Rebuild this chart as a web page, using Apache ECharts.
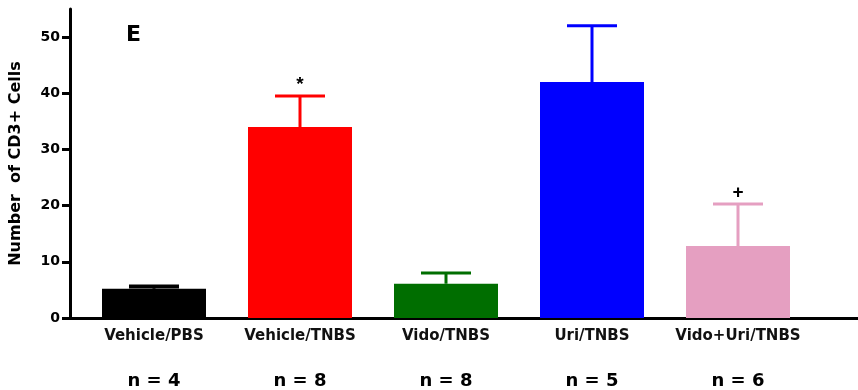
<!DOCTYPE html>
<html><head><meta charset="utf-8">
<script src="https://cdn.jsdelivr.net/npm/echarts@6/dist/echarts.min.js"></script>
<style>html,body{margin:0;padding:0;background:#fff}#c{width:858px;height:390px}</style>
</head><body><div id="c"></div>
<script>
var categories = ['Vehicle/PBS', 'Vehicle/TNBS', 'Vido/TNBS', 'Uri/TNBS', 'Vido+Uri/TNBS'];
var nLabels = ['n = 4', 'n = 8', 'n = 8', 'n = 5', 'n = 6'];
var means = [5.2, 34, 6.1, 42, 12.8];
var sems = [0.4, 5.5, 1.9, 10, 7.5];
var marks = ['', '*', '', '', '+'];
var yTicks = [0, 10, 20, 30, 40, 50];
var yMax = 55;
var colors = ['#000000', '#ff0000', '#006e00', '#0000ff', '#e59fc1'];

var chart = echarts.init(document.getElementById('c'), null, {renderer: 'canvas'});
var font = 'DejaVu Sans, Verdana, sans-serif';

var option = {
  animation: false,
  backgroundColor: '#fff',
  grid: [
    {left: 81, right: 47, top: 9, bottom: 72, containLabel: false, outerBoundsMode: 'none'},
    {left: 70, right: 0, top: 9, bottom: 72, containLabel: false, outerBoundsMode: 'none'}
  ],
  xAxis: [
    {type: 'category', gridIndex: 0, data: categories,
     axisLine: {show: false}, axisTick: {show: false},
     axisLabel: {margin: 11, color: '#111', fontFamily: font, fontWeight: 'bold', fontSize: 15, interval: 0}},
    {type: 'category', gridIndex: 0, data: nLabels, position: 'bottom', offset: 46,
     axisLine: {show: false}, axisTick: {show: false},
     axisLabel: {margin: 8, color: '#000', fontFamily: font, fontWeight: 'bold', fontSize: 18, interval: 0}},
    {type: 'value', gridIndex: 1, min: 0, max: 1,
     axisLine: {show: true, lineStyle: {color: '#000', width: 3}},
     axisTick: {show: false}, axisLabel: {show: false}, splitLine: {show: false}}
  ],
  yAxis: [
    {type: 'value', gridIndex: 0, min: 0, max: yMax, show: false, splitLine: {show: false}},
    {type: 'value', gridIndex: 1, min: 0, max: yMax,
     name: 'Number  of CD3+ Cells', nameLocation: 'middle', nameGap: 46,
     nameTextStyle: {fontFamily: font, fontWeight: 'bold', fontSize: 16, color: '#000'},
     axisLine: {show: true, lineStyle: {color: '#000', width: 3}},
     axisTick: {show: true, length: 8, lineStyle: {width: 3, color: '#000'}, customValues: yTicks},
     axisLabel: {fontFamily: font, fontWeight: 'bold', fontSize: 14, color: '#000', margin: 10, customValues: yTicks},
     splitLine: {show: false}}
  ],
  graphic: [
    {type: 'text', left: 126, top: 24, style: {text: 'E', font: 'bold 22px DejaVu Sans, Verdana, sans-serif', fill: '#000'}}
  ],
  series: [
    {type: 'bar', xAxisIndex: 0, yAxisIndex: 0, barWidth: 104,
     data: means.map(function (v, i) { return {value: v, itemStyle: {color: colors[i]}}; })},
    {type: 'custom', xAxisIndex: 0, yAxisIndex: 0,
     data: means.map(function (v, i) { return [i, v, sems[i]]; }),
     renderItem: function (params, api) {
       var i = api.value(0), m = api.value(1), e = api.value(2);
       var base = api.coord([i, m]);
       var top = api.coord([i, m + e]);
       var col = colors[i];
       var capW = 50;
       var children = [
         {type: 'line', shape: {x1: base[0], y1: base[1], x2: top[0], y2: top[1]}, style: {stroke: col, lineWidth: 3}},
         {type: 'line', shape: {x1: top[0] - capW / 2, y1: top[1], x2: top[0] + capW / 2, y2: top[1]}, style: {stroke: col, lineWidth: i === 0 ? 4 : 3}}
       ];
       if (marks[i]) {
         children.push({type: 'text', x: top[0], y: top[1] - 2,
           style: {text: marks[i], font: 'bold 19px Liberation Sans, Arial, sans-serif', fill: '#000', align: 'center', verticalAlign: 'bottom'}});
       }
       return {type: 'group', children: children};
     }}
  ]
};
chart.setOption(option);
</script></body></html>
